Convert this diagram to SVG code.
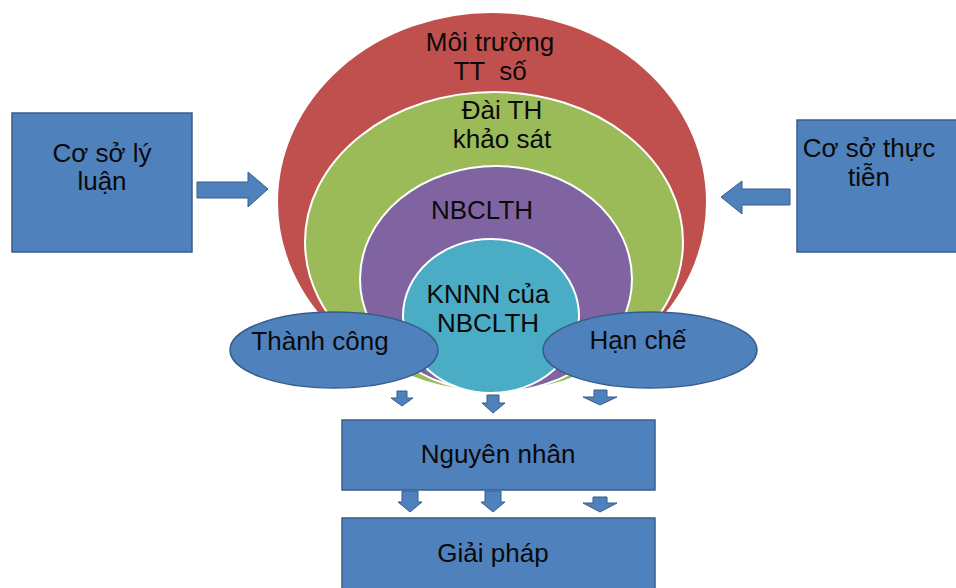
<svg xmlns="http://www.w3.org/2000/svg" width="956" height="588" viewBox="0 0 956 588">
<style>
.bg{fill:#ffffff}
.ring{stroke:#ffffff;stroke-width:2}
.blue{fill:#4F81BD;stroke:#385D8A;stroke-width:1.5}
.arr{fill:#4F81BD;stroke:#385D8A;stroke-width:1}
text{font-family:"Liberation Sans",Arial,sans-serif;font-size:26px;fill:#0a0a0a;text-anchor:middle;white-space:pre}
</style>
<rect class="bg" x="0" y="0" width="956" height="588"/>
<g id="circles">
  <g id="moi-truong">
    <ellipse class="ring" cx="492" cy="202" rx="215" ry="190" fill="#C0504D"/>
    <text x="490" y="51">Môi trường</text>
    <text x="490" y="80" xml:space="preserve">TT  số</text>
  </g>
  <g id="dai-th">
    <ellipse class="ring" cx="494" cy="242" rx="189" ry="150" fill="#9BBB59"/>
    <text x="502" y="119">Đài TH</text>
    <text x="502" y="148">khảo sát</text>
  </g>
  <g id="nbclth">
    <ellipse class="ring" cx="496" cy="279" rx="136" ry="113" fill="#8064A2"/>
    <text x="482" y="219">NBCLTH</text>
  </g>
  <g id="knnn">
    <ellipse class="ring" cx="491" cy="316" rx="88" ry="77" fill="#4BACC6"/>
    <text x="488" y="303">KNNN của</text>
    <text x="488" y="332">NBCLTH</text>
  </g>
</g>
<g id="co-so-ly-luan">
  <rect class="blue" x="12" y="113" width="180" height="139"/>
  <text x="102" y="162">Cơ sở lý</text>
  <text x="102" y="190">luận</text>
</g>
<g id="co-so-thuc-tien">
  <rect class="blue" x="797" y="120" width="170" height="132"/>
  <text x="869" y="157">Cơ sở thực</text>
  <text x="869" y="186">tiễn</text>
</g>
<g id="thanh-cong">
  <ellipse class="blue" cx="334" cy="350" rx="104" ry="38"/>
  <text x="320" y="350">Thành công</text>
</g>
<g id="han-che">
  <ellipse class="blue" cx="650" cy="350" rx="107" ry="38"/>
  <text x="638" y="349">Hạn chế</text>
</g>
<g id="nguyen-nhan">
  <rect class="blue" x="342" y="420" width="313" height="70"/>
  <text x="498" y="463">Nguyên nhân</text>
</g>
<g id="giai-phap">
  <rect class="blue" x="342" y="518" width="313" height="80"/>
  <text x="493" y="562">Giải pháp</text>
</g>
<g id="connectors">
  <polygon class="arr" points="197,182 248,182 248,172 268,189 248,207 248,198 197,198"/>
  <polygon class="arr" points="790,189 742,189 742,181 721,197 742,214 742,205 790,205"/>
  <polygon class="arr" points="397,391 407,391 407,398 413,398 402,406 391,398 397,398"/>
  <polygon class="arr" points="487,395 499,395 499,403 505,403 493,413 482,403 487,403"/>
  <polygon class="arr" points="594,390 607,390 607,397 617,397 600,405 583,397 594,397"/>
  <polygon class="arr" points="402,491 418,491 418,502 422,502 410,512 398,502 402,502"/>
  <polygon class="arr" points="485,491 501,491 501,502 505,502 493,512 481,502 485,502"/>
  <polygon class="arr" points="593,497 607,497 607,503 617,503 600,512 583,503 593,503"/>
</g>
</svg>
